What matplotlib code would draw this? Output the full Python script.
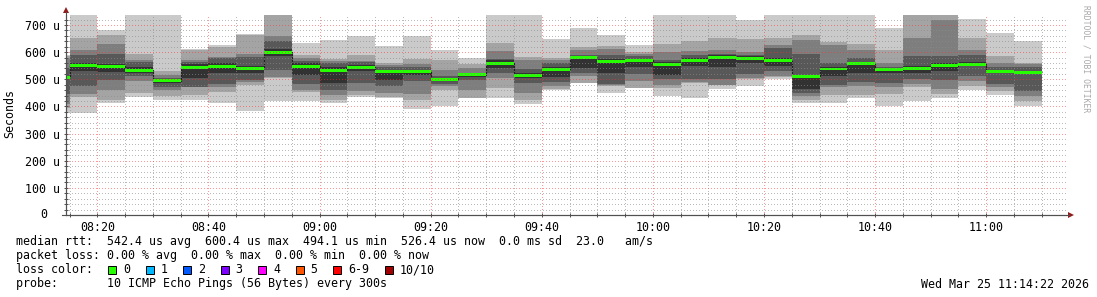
import numpy as np
import pandas as pd
import matplotlib
matplotlib.use("Agg")
import matplotlib.pyplot as plt
import matplotlib.dates as mdates
from matplotlib.patches import Rectangle, Polygon
from matplotlib.lines import Line2D
from matplotlib.ticker import MultipleLocator, FuncFormatter

plt.rcParams['font.family'] = ['DejaVu Sans Mono']
FS = 8.4

# each value belongs to the 5 minute step ending at that time
step_end = pd.date_range("2026-03-25 08:15", periods=36, freq="5min")

# sorted pings of each step (microseconds), rank 1 = fastest
ping1 = [380, 376, 412, 435, 425, 425, 413, 384, 419, 419, 413, 433, 431, 392, 400, 430, 430, 409,
         462, 485, 449, 468, 440, 431, 465, 477, 500, 414, 414, 430, 401, 420, 430, 462, 442, 401]
ping2 = [395, 433, 424, 449, 440, 441, 453, 480, 505, 455, 425, 441, 436, 425, 462, 431, 467, 424,
         463, 486, 474, 469, 468, 485, 479, 503, 510, 424, 441, 441, 447, 473, 445, 474, 457, 420]
ping3 = [410, 446, 461, 494, 462, 470, 470, 490, 507, 462, 441, 456, 448, 446, 477, 462, 504, 448,
         474, 511, 479, 492, 479, 490, 480, 504, 511, 440, 470, 474, 470, 483, 464, 492, 470, 440]
ping4 = [445, 474, 498, 511, 470, 472, 483, 499, 536, 483, 462, 486, 474, 493, 483, 499, 523, 485,
         491, 524, 483, 520, 500, 500, 500, 520, 530, 450, 480, 490, 486, 500, 499, 511, 483, 458]
ping5 = [500, 529, 528, 524, 488, 505, 523, 525, 585, 515, 486, 530, 499, 516, 493, 510, 540, 505,
         510, 542, 523, 545, 516, 550, 544, 560, 548, 465, 511, 523, 525, 525, 530, 548, 523, 522]
ping6 = [512, 560, 558, 545, 500, 555, 560, 550, 612, 560, 545, 552, 535, 532, 505, 520, 570, 525,
         545, 585, 575, 575, 565, 580, 590, 585, 580, 515, 545, 565, 540, 550, 560, 565, 535, 532]
ping7 = [540, 591, 593, 564, 505, 564, 578, 581, 640, 566, 560, 562, 545, 545, 511, 523, 574, 538,
         560, 591, 588, 585, 570, 590, 595, 590, 614, 592, 560, 580, 545, 585, 585, 590, 545, 545]
ping8 = [575, 609, 630, 572, 515, 572, 584, 593, 658, 578, 566, 566, 552, 556, 536, 540, 604, 571,
         570, 608, 610, 595, 600, 603, 609, 600, 626, 645, 626, 609, 560, 654, 718, 609, 560, 558]
ping9 = [585, 652, 662, 595, 531, 608, 618, 662, 760, 591, 576, 591, 560, 576, 572, 555, 634, 583,
         580, 618, 621, 600, 630, 642, 653, 650, 653, 664, 639, 629, 609, 760, 760, 653, 586, 560]
ping10 = [590, 760, 682, 760, 760, 612, 627, 667, 770, 634, 645, 660, 624, 660, 607, 578, 760, 760,
          649, 688, 662, 627, 760, 760, 760, 719, 760, 760, 760, 760, 689, 770, 770, 722, 670, 640]
median = [507, 551, 549, 533, 494.1, 544, 549, 540, 600.4, 549, 534, 545, 529, 527, 499, 516, 559, 515,
          537, 579, 565, 570, 554, 571, 579, 577, 568, 511, 538, 557, 536, 540, 550, 556, 529, 526.4]

loss_labels = ["0", "1", "2", "3", "4", "5", "6-9", "10/10"]
loss_colors = ["#26ff00", "#00b8ff", "#0059ff", "#7e00ff", "#ff00ff", "#ff5500", "#ff0000", "#a10000"]
smoke_colors = ["#cacaca", "#a4a4a4", "#7e7e7e", "#585858", "#323232"]

rtt_line = "median rtt:  542.4 us avg  600.4 us max  494.1 us min  526.4 us now  0.0 ms sd  23.0   am/s"
loss_line = "packet loss: 0.00 % avg  0.00 % max  0.00 % min  0.00 % now"
probe_line = "probe:       10 ICMP Echo Pings (56 Bytes) every 300s"
stamp = "Wed Mar 25 11:14:22 2026"

W, H = 1097, 297
fig = plt.figure(figsize=(W / 100, H / 100), dpi=100)
fig.patch.set_facecolor("white")
ax = fig.add_axes([66 / W, 1 - 215 / H, 1000 / W, 200 / H])


def fx(px):
    return px / W


def fy(py):
    return 1 - py / H


ends = mdates.date2num(step_end)
w = 5 / 1440.0
starts = ends - w

pings = np.array([ping1, ping2, ping3, ping4, ping5, ping6, ping7, ping8, ping9, ping10], dtype=float)
for i, c in enumerate(smoke_colors):
    lo = pings[i]
    hi = pings[9 - i]
    ax.bar(starts, hi - lo, bottom=lo, width=w, align='edge', color=c, linewidth=0, zorder=1)

med = np.array(median)
ax.stairs(med, np.append(starts, ends[-1]), baseline=None, color='#202020', lw=0.8, zorder=1.2)
hw = 5.5
ax.bar(starts, 2 * hw, bottom=med - hw, width=w, align='edge', color=loss_colors[0],
       linewidth=0, zorder=1.5)

t0 = mdates.date2num(pd.Timestamp("2026-03-25 08:14:22"))
ax.set_xlim(t0, t0 + 180 / 1440.0)
ax.set_ylim(0, 737)

ax.xaxis.set_major_locator(mdates.MinuteLocator(byminute=[0, 20, 40]))
ax.xaxis.set_minor_locator(mdates.MinuteLocator(byminute=range(0, 60, 5)))
ax.xaxis.set_major_formatter(mdates.DateFormatter('%H:%M'))
ax.yaxis.set_major_locator(MultipleLocator(100))
ax.yaxis.set_minor_locator(MultipleLocator(20))
ax.yaxis.set_major_formatter(FuncFormatter(lambda v, p: "" if v == 0 else f"{v:.0f} u"))
ax.text(-19 / 1000, 0, "0", transform=ax.get_yaxis_transform(), ha='right', va='center', fontsize=FS)

ax.set_axisbelow(False)
ax.grid(which='minor', color='#8c8c8c', alpha=0.6, lw=0.72, ls=(0, (0.6, 2.2)), antialiased=False)
ax.grid(which='major', color='#ff3030', alpha=0.5, lw=0.72, ls=(0, (0.6, 2.2)), antialiased=False)

for s in ['top', 'right']:
    ax.spines[s].set_visible(False)
for s in ['left', 'bottom']:
    ax.spines[s].set_color('#505050')
    ax.spines[s].set_linewidth(0.8)
    ax.spines[s].set_zorder(3)
ax.tick_params(which='both', direction='inout', length=3, width=0.7, color='#505050',
               labelsize=FS, pad=2.5)

# axis extensions and arrows
fig.add_artist(Line2D([fx(66), fx(66)], [fy(215), fy(12)], color='#505050', lw=0.8))
fig.add_artist(Line2D([fx(62), fx(1069)], [fy(215), fy(215)], color='#505050', lw=0.8))
fig.add_artist(Polygon([[fx(63), fy(13)], [fx(69), fy(13)], [fx(66), fy(7)]], closed=True,
                       color='#901c1c', lw=0))
fig.add_artist(Polygon([[fx(1068), fy(212)], [fx(1068), fy(218)], [fx(1074), fy(215)]], closed=True,
                       color='#901c1c', lw=0))

fig.text(fx(10), fy(114), "Seconds", rotation=90, ha='center', va='center', fontsize=FS)
fig.text(fx(1086), fy(5), "RRDTOOL / TOBI OETIKER", rotation=270, ha='center', va='top',
         fontsize=5.8, color='#a8a8a8')

# legend
fig.text(fx(16), fy(241.5), rtt_line, ha='left', va='center', fontsize=FS)
fig.text(fx(16), fy(255.7), loss_line, ha='left', va='center', fontsize=FS)
fig.text(fx(16), fy(269.8), "loss color:", ha='left', va='center', fontsize=FS)
fig.text(fx(16), fy(284), probe_line, ha='left', va='center', fontsize=FS)
fig.text(fx(1089), fy(284), stamp, ha='right', va='center', fontsize=FS)

cw = 7.0
bx = 108
for lab, col in zip(loss_labels, loss_colors):
    fig.add_artist(Rectangle((fx(bx), fy(273.8)), 8 / W, 8 / H, facecolor=col,
                             edgecolor='black', lw=0.7))
    fig.text(fx(bx + 15), fy(269.8), lab, ha='left', va='center', fontsize=FS)
    bx = bx + 15 + len(lab) * cw + 15.5

fig.savefig("out.png", dpi=100)
